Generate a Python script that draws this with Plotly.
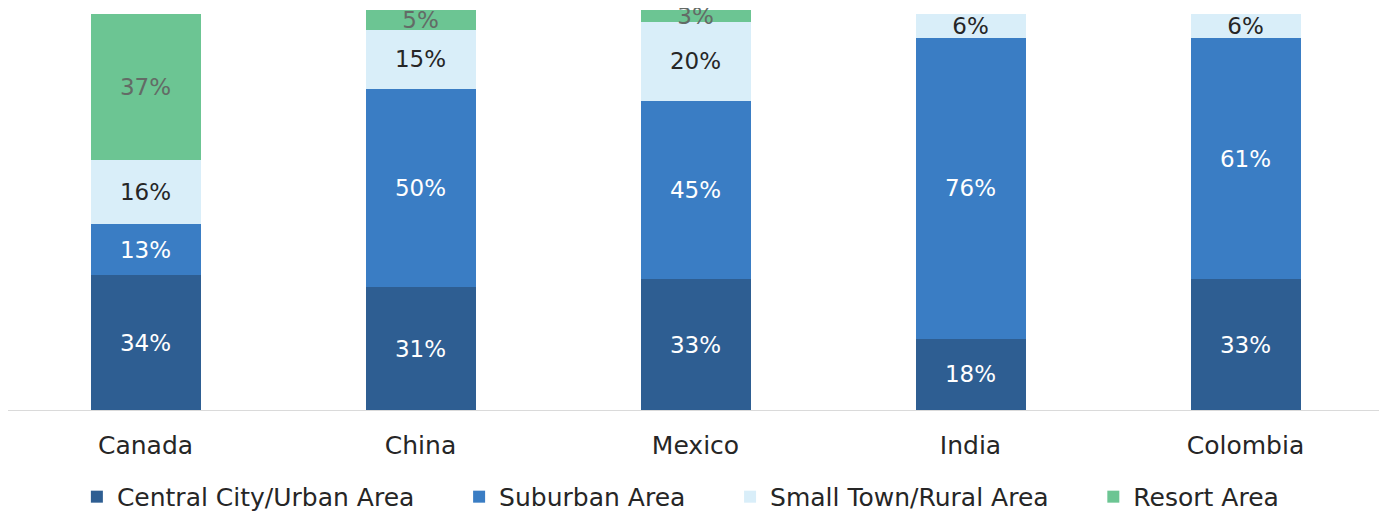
import plotly.graph_objects as go

countries = ["Canada", "China", "Mexico", "India", "Colombia"]
urban = [34, 31, 33, 18, 33]
suburban = [13, 50, 45, 76, 61]
rural = [16, 15, 20, 6, 6]
resort = [37, 5, 3, 0, 0]

series = [
    ("Central City/Urban Area", urban, "#2E5E92", "#FFFFFF"),
    ("Suburban Area", suburban, "#3A7DC4", "#FFFFFF"),
    ("Small Town/Rural Area", rural, "#D9EEF9", "#262626"),
    ("Resort Area", resort, "#6CC593", "#636B66"),
]

FONT = "DejaVu Sans"
PAD = "\u00a0" * 5  # extra room between legend entries

fig = go.Figure()
for i, (name, vals, colour, txtcol) in enumerate(series):
    fig.add_trace(go.Bar(
        x=countries,
        y=vals,
        name=name + (PAD if i < len(series) - 1 else ""),
        marker_color=colour,
        marker_line_width=0,
        text=[f"{v}%" if v else "" for v in vals],
        textposition="inside",
        insidetextanchor="middle",
        textfont=dict(family=FONT, size=23, color=txtcol),
        cliponaxis=False,
    ))

fig.update_layout(
    barmode="stack",
    bargap=0.6,
    width=1379,
    height=508,
    margin=dict(l=0, r=4, t=0, b=106, autoexpand=False),
    paper_bgcolor="white",
    plot_bgcolor="white",
    uniformtext=dict(minsize=23, mode="show"),
    font=dict(family=FONT, size=25, color="#262626"),
    showlegend=True,
    legend=dict(
        orientation="h",
        x=0.489, xanchor="center",
        y=-0.159, yanchor="top",
        font=dict(family=FONT, size=25, color="#262626"),
        itemwidth=30,
        traceorder="normal",
    ),
    xaxis=dict(
        showline=True,
        linecolor="#DADADA",
        linewidth=1,
        ticks="outside",
        ticklen=13,
        tickcolor="rgba(0,0,0,0)",
        tickfont=dict(family=FONT, size=25, color="#262626"),
        showgrid=False,
    ),
    yaxis=dict(
        range=[0, 101.5],
        visible=False,
        showgrid=False,
    ),
)

fig.write_html("out.html")
